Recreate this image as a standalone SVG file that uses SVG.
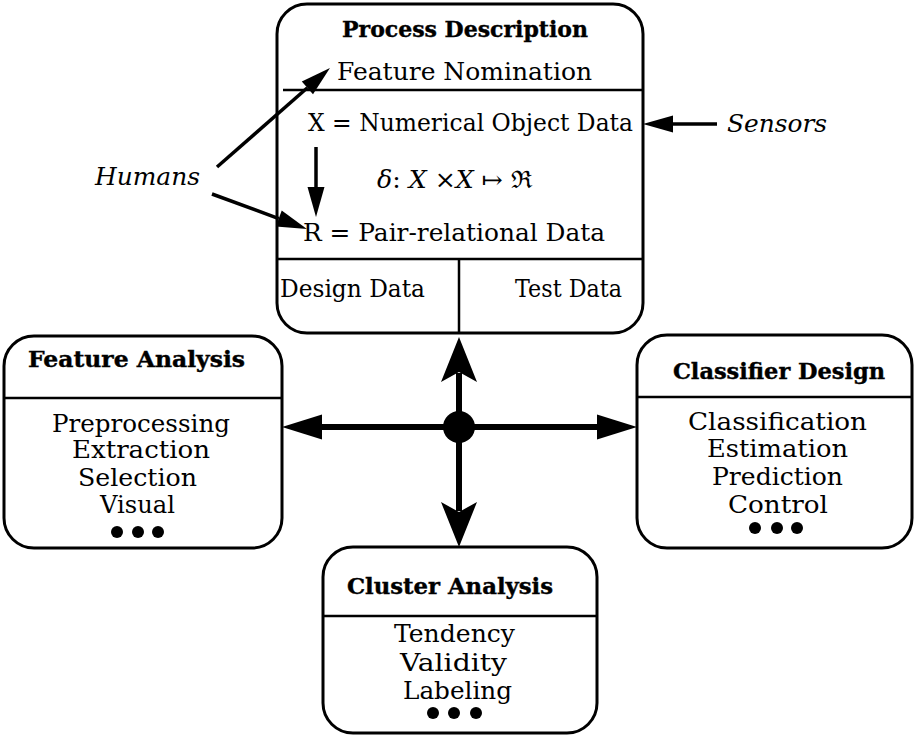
<svg xmlns="http://www.w3.org/2000/svg" width="914" height="735" viewBox="0 0 914 735">
  <style>
    .box { fill: #fff; stroke: #000; stroke-width: 3; }
    .div { stroke: #000; stroke-width: 2.5; fill: none; }
    .t { font-family: "DejaVu Serif", "Liberation Serif", serif; font-size: 24px; fill: #000; }
    .item { font-family: "DejaVu Serif", "Liberation Serif", serif; font-size: 25px; fill: #000; text-anchor: middle; }
    .title { font-family: "DejaVu Serif", "Liberation Serif", serif; font-size: 22px; font-weight: bold; fill: #000; text-anchor: middle; stroke: #000; stroke-width: 0.4; }
    .it { font-family: "DejaVu Serif", "Liberation Serif", serif; font-size: 24px; font-style: italic; fill: #000; }
    .thick { stroke: #000; stroke-width: 6; fill: none; }
    .thin { stroke: #000; stroke-width: 3.5; fill: none; }
  </style>
  <defs>
    <marker id="headH" markerUnits="userSpaceOnUse" markerWidth="40" markerHeight="25" refX="0" refY="12.5" orient="auto" overflow="visible">
      <path d="M0,0 L40,12.5 L0,25 Z" fill="#000"/>
    </marker>
    <marker id="headV" markerUnits="userSpaceOnUse" markerWidth="45" markerHeight="36" refX="9" refY="18" orient="auto" overflow="visible">
      <path d="M0,0 L45,18 L0,36 L10,18 Z" fill="#000"/>
    </marker>
    <marker id="headS" markerUnits="userSpaceOnUse" markerWidth="30" markerHeight="17" refX="0" refY="8.5" orient="auto" overflow="visible">
      <path d="M0,0 L30,8.5 L0,17 Z" fill="#000"/>
    </marker>
  </defs>

  <!-- Process description box -->
  <g id="process">
    <rect class="box" x="277" y="4" width="366" height="329" rx="30"/>
    <line class="div" x1="283" y1="90" x2="643" y2="90"/>
    <line class="div" x1="277" y1="259" x2="643" y2="259"/>
    <line class="div" x1="459" y1="259" x2="459" y2="333"/>
    <text class="title" x="465" y="37" textLength="246" lengthAdjust="spacingAndGlyphs">Process Description</text>
    <text class="t" x="337" y="80" textLength="255" lengthAdjust="spacingAndGlyphs">Feature  Nomination</text>
    <text class="t" x="308" y="131" textLength="325" lengthAdjust="spacingAndGlyphs">X = Numerical Object Data</text>
    <text class="t" x="377" y="188" textLength="155" lengthAdjust="spacingAndGlyphs"><tspan font-style="italic">δ</tspan>: <tspan font-style="italic">X</tspan> ×<tspan font-style="italic">X</tspan> ↦ ℜ</text>
    <text class="t" x="303" y="241" textLength="302" lengthAdjust="spacingAndGlyphs">R = Pair-relational Data</text>
    <text class="t" x="280" y="297" textLength="145" lengthAdjust="spacingAndGlyphs">Design Data</text>
    <text class="t" x="515" y="297" textLength="107" lengthAdjust="spacingAndGlyphs">Test Data</text>
  </g>

  <!-- Labels outside the process box -->
  <g id="humans">
    <text class="it" x="95" y="185" textLength="105" lengthAdjust="spacingAndGlyphs">Humans</text>
  </g>
  <g id="sensors">
    <text class="it" x="727" y="132" textLength="100" lengthAdjust="spacingAndGlyphs">Sensors</text>
  </g>

  <!-- Feature analysis -->
  <g id="feature-analysis">
    <rect class="box" x="4" y="336" width="278" height="212" rx="30"/>
    <line class="div" x1="4" y1="398" x2="282" y2="398"/>
    <text class="title" x="136.5" y="367" textLength="217" lengthAdjust="spacingAndGlyphs">Feature Analysis</text>
    <text class="item" x="141" y="432" textLength="178" lengthAdjust="spacingAndGlyphs">Preprocessing</text>
    <text class="item" x="141" y="458" textLength="138" lengthAdjust="spacingAndGlyphs">Extraction</text>
    <text class="item" x="137.5" y="486" textLength="119" lengthAdjust="spacingAndGlyphs">Selection</text>
    <text class="item" x="137.5" y="513" textLength="75" lengthAdjust="spacingAndGlyphs">Visual</text>
    <circle cx="117" cy="532" r="6"/>
    <circle cx="138" cy="532" r="6"/>
    <circle cx="158" cy="532" r="6"/>
  </g>

  <!-- Classifier design -->
  <g id="classifier-design">
    <rect class="box" x="637" y="335" width="275" height="213" rx="30"/>
    <line class="div" x1="637" y1="397" x2="912" y2="397"/>
    <text class="title" x="779" y="379" textLength="212" lengthAdjust="spacingAndGlyphs">Classifier Design</text>
    <text class="item" x="777.5" y="430" textLength="179" lengthAdjust="spacingAndGlyphs">Classification</text>
    <text class="item" x="777.5" y="457" textLength="141" lengthAdjust="spacingAndGlyphs">Estimation</text>
    <text class="item" x="777.5" y="485" textLength="131" lengthAdjust="spacingAndGlyphs">Prediction</text>
    <text class="item" x="778" y="513" textLength="100" lengthAdjust="spacingAndGlyphs">Control</text>
    <circle cx="755" cy="528" r="6"/>
    <circle cx="777" cy="528" r="6"/>
    <circle cx="797" cy="528" r="6"/>
  </g>

  <!-- Cluster analysis -->
  <g id="cluster-analysis">
    <rect class="box" x="323" y="547" width="274" height="186" rx="30"/>
    <line class="div" x1="323" y1="616" x2="597" y2="616"/>
    <text class="title" x="450" y="594" textLength="206" lengthAdjust="spacingAndGlyphs">Cluster Analysis</text>
    <text class="item" x="454.5" y="642" textLength="121" lengthAdjust="spacingAndGlyphs">Tendency</text>
    <text class="item" x="453.5" y="671" textLength="107" lengthAdjust="spacingAndGlyphs">Validity</text>
    <text class="item" x="457.5" y="699" textLength="109" lengthAdjust="spacingAndGlyphs">Labeling</text>
    <circle cx="433" cy="713" r="6"/>
    <circle cx="454" cy="713" r="6"/>
    <circle cx="476" cy="713" r="6"/>
  </g>

  <!-- Connectors -->
  <g id="connectors">
    <line class="thick" x1="459" y1="427" x2="322" y2="427" marker-end="url(#headH)"/>
    <line class="thick" x1="459" y1="427" x2="597" y2="427" marker-end="url(#headH)"/>
    <line class="thick" x1="459" y1="427" x2="459" y2="373" marker-end="url(#headV)"/>
    <line class="thick" x1="459" y1="427" x2="459" y2="511" marker-end="url(#headV)"/>
    <circle cx="459" cy="427" r="16"/>
    <line class="thin" x1="217" y1="167" x2="307.4" y2="87.8" marker-end="url(#headS)"/>
    <line class="thin" x1="212" y1="194" x2="278.8" y2="218.6" marker-end="url(#headS)"/>
    <line class="thin" x1="316" y1="147" x2="316" y2="187" marker-end="url(#headS)"/>
    <line class="thin" x1="717" y1="124" x2="673" y2="124" marker-end="url(#headS)"/>
  </g>
</svg>
